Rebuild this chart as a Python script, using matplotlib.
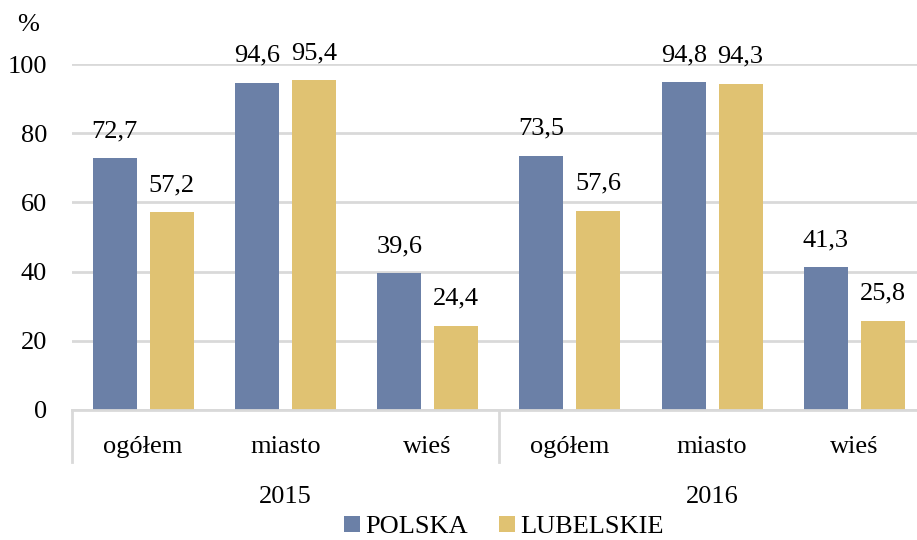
import matplotlib
matplotlib.use('Agg')
from matplotlib import pyplot as plt
from matplotlib.lines import Line2D
import numpy as np

# dane
kategorie = ['ogółem', 'miasto', 'wieś', 'ogółem', 'miasto', 'wieś']
lata = ['2015', '2016']
polska = [72.7, 94.6, 39.6, 73.5, 94.8, 41.3]
lubelskie = [57.2, 95.4, 24.4, 57.6, 94.3, 25.8]
serie = ['POLSKA', 'LUBELSKIE']

kolor_pl = '#6b80a7'
kolor_lu = '#e0c272'
szary = '#d9d9d9'
fs = 19

plt.rcParams['font.family'] = ['Liberation Serif', 'DejaVu Serif']

fig = plt.figure(figsize=(9.17, 5.4), dpi=100)
ax = fig.add_axes([72/917, 130/540, 845/917, 346/540])

x = np.arange(len(kategorie))
w = 0.31
b1 = ax.bar(x - 0.2, polska, w, color=kolor_pl, zorder=3, label=serie[0])
b2 = ax.bar(x + 0.2, lubelskie, w, color=kolor_lu, zorder=3, label=serie[1])

for bars, vals in ((b1, polska), (b2, lubelskie)):
    for r, v in zip(bars, vals):
        ax.annotate(str(v).replace('.', ','), (r.get_x() + r.get_width()/2, v),
                    xytext=(0, 15), textcoords='offset points',
                    ha='center', va='baseline', fontsize=fs, annotation_clip=False)

ax.set_xlim(-0.5, 5.44)
ax.set_ylim(0, 100)
ax.set_yticks(range(0, 101, 20))
ax.tick_params(axis='y', length=0, labelsize=fs, pad=18)
ax.set_xticks([])
ax.grid(axis='y', color=szary, linewidth=2, zorder=0)
for s in ax.spines.values():
    s.set_visible(False)

# os x i separatory grup
tr = ax.get_xaxis_transform()
ax.add_line(Line2D([-0.5, 5.44], [0, 0], transform=tr, color=szary, lw=2, clip_on=False, zorder=4))
for xs in (-0.5, 2.5):
    ax.add_line(Line2D([xs, xs], [0, -52/346], transform=tr, color=szary, lw=2, clip_on=False))

for i, k in enumerate(kategorie):
    ax.text(i, -37/346, k, transform=tr, ha='center', va='center', fontsize=fs)
for j, rok in enumerate(lata):
    ax.text(1 + 3*j, -87/346, rok, transform=tr, ha='center', va='center', fontsize=fs)

fig.text(28/917, 1 - 25/540, '%', ha='center', va='center', fontsize=fs)

fig.legend(handles=[b1, b2], loc='center', bbox_to_anchor=(504/917, 1 - 527/540),
           ncol=2, frameon=False, fontsize=fs, handlelength=0.6, handleheight=0.6,
           handletextpad=0.2, columnspacing=1.2, borderpad=0)

plt.savefig('out.png', dpi=100)
